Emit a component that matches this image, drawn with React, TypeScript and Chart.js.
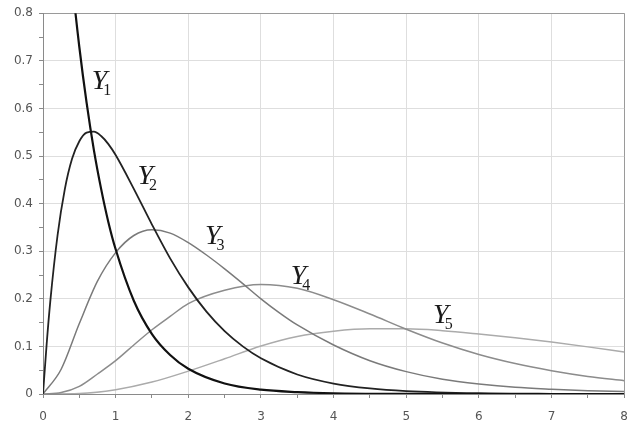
import React, { useEffect, useRef } from "react";
import { Chart, registerables } from "chart.js";

Chart.register(...registerables);

// Series values (x, y pairs per curve)
const y1X = [0.2, 0.3, 0.4, 0.5, 0.6, 0.7, 0.8, 0.9, 1.0, 1.25, 1.5, 1.75, 2.0, 2.5, 3.0, 3.5, 4.0, 5.0, 6.0, 8.0];
const y1Y = [1.235, 1.035, 0.869, 0.729, 0.612, 0.513, 0.431, 0.361, 0.304, 0.196, 0.126, 0.082, 0.053, 0.022, 0.009, 0.004, 0.0016, 0.0003, 0, 0];

const y2X = [0, 0.05, 0.1, 0.2, 0.3, 0.4, 0.5, 0.6, 0.7, 0.8, 0.9, 1.0, 1.25, 1.5, 1.75, 2.0, 2.25, 2.5, 2.75, 3.0, 3.5, 4.0, 4.5, 5.0, 6.0, 7.0, 8.0];
const y2Y = [0, 0.104, 0.194, 0.333, 0.43, 0.494, 0.531, 0.549, 0.551, 0.542, 0.525, 0.502, 0.431, 0.356, 0.285, 0.224, 0.173, 0.132, 0.1, 0.075, 0.041, 0.022, 0.0117, 0.0062, 0.0017, 0.0004, 0.0001];

const y3X = [0, 0.25, 0.5, 0.75, 1.0, 1.25, 1.5, 1.75, 2.0, 2.25, 2.5, 2.75, 3.0, 3.25, 3.5, 4.0, 4.5, 5.0, 5.5, 6.0, 6.5, 7.0, 7.5, 8.0];
const y3Y = [0, 0.052, 0.148, 0.237, 0.297, 0.333, 0.345, 0.338, 0.318, 0.292, 0.263, 0.232, 0.2, 0.171, 0.145, 0.103, 0.07, 0.047, 0.031, 0.021, 0.014, 0.01, 0.007, 0.005];

const y4X = [0, 0.25, 0.5, 0.75, 1.0, 1.25, 1.5, 1.75, 2.0, 2.5, 3.0, 3.5, 4.0, 4.5, 5.0, 5.5, 6.0, 6.5, 7.0, 7.5, 8.0];
const y4Y = [0, 0.003, 0.016, 0.042, 0.07, 0.103, 0.135, 0.163, 0.19, 0.218, 0.23, 0.222, 0.198, 0.168, 0.136, 0.107, 0.083, 0.064, 0.049, 0.037, 0.028];

const y5X = [0, 0.5, 1.0, 1.5, 2.0, 2.5, 3.0, 3.5, 4.0, 4.5, 5.0, 5.5, 6.0, 6.5, 7.0, 7.5, 8.0];
const y5Y = [0, 0.001, 0.009, 0.025, 0.048, 0.074, 0.101, 0.121, 0.132, 0.137, 0.137, 0.133, 0.126, 0.118, 0.109, 0.099, 0.088];

// Curve labels (Y with subscript) and their anchor positions in data units
const labelSubs = ["1", "2", "3", "4", "5"];
const labelX = [0.67, 1.3, 2.23, 3.41, 5.37];
const labelY = [0.64, 0.442, 0.315, 0.231, 0.15];

// Axis ranges
const xMin = 0, xMax = 8, xStep = 0.5;
const yMin = 0, yMax = 0.8, yStep = 0.05;

const pts = (xs: number[], ys: number[]) => xs.map((x, i) => ({ x, y: ys[i] }));
const isMult = (v: number, m: number) => Math.abs(v / m - Math.round(v / m)) < 1e-6;

const curveLabels = {
  id: "curveLabels",
  afterDatasetsDraw(chart: any) {
    const { ctx, scales } = chart;
    ctx.save();
    ctx.fillStyle = "#1a1a1a";
    ctx.textBaseline = "alphabetic";
    ctx.textAlign = "left";
    labelSubs.forEach((s, i) => {
      const px = scales.x.getPixelForValue(labelX[i]);
      const py = scales.y.getPixelForValue(labelY[i]);
      ctx.font = 'italic 28px "Liberation Serif"';
      ctx.fillText("Y", px, py);
      const w = ctx.measureText("Y").width;
      ctx.font = '16px "Liberation Serif"';
      ctx.fillText(s, px + w - 4, py + 6);
    });
    ctx.restore();
  },
};

export default function App() {
  const ref = useRef<HTMLCanvasElement | null>(null);
  useEffect(() => {
    if (!ref.current) return;
    const tickFont = { family: "DejaVu Sans", size: 12 };
    const chart = new Chart(ref.current, {
      type: "line",
      data: {
        datasets: [
          { label: "Y1", data: pts(y1X, y1Y), borderColor: "#111", borderWidth: 2.2 },
          { label: "Y2", data: pts(y2X, y2Y), borderColor: "#222", borderWidth: 1.8 },
          { label: "Y3", data: pts(y3X, y3Y), borderColor: "#7a7a7a", borderWidth: 1.5 },
          { label: "Y4", data: pts(y4X, y4Y), borderColor: "#8c8c8c", borderWidth: 1.5 },
          { label: "Y5", data: pts(y5X, y5Y), borderColor: "#ababab", borderWidth: 1.5 },
        ].map((d) => ({
          ...d,
          pointRadius: 0,
          fill: false,
          cubicInterpolationMode: "monotone" as const,
          clip: 0,
        })),
      },
      options: {
        animation: false,
        responsive: false,
        layout: { padding: { top: 10, right: 13, left: 0, bottom: 0 } },
        plugins: { legend: { display: false }, tooltip: { enabled: false } },
        scales: {
          x: {
            type: "linear",
            min: xMin,
            max: xMax,
            afterFit: (s: any) => { s.height = 32; },
            ticks: {
              stepSize: xStep,
              autoSkip: false,
              maxRotation: 0,
              padding: 12,
              color: "#555",
              font: tickFont,
              callback: (v: any) => (isMult(Number(v), 1) ? String(Math.round(Number(v))) : ""),
            },
            grid: {
              color: (c: any) => {
                const v = c.tick ? c.tick.value : 0;
                if (!isMult(v, 1)) return "rgba(0,0,0,0)";
                return v === xMax ? "#9a9a9a" : "#dedede";
              },
              tickColor: "#8a8a8a",
              tickLength: 4,
            },
            border: { color: "#8a8a8a", width: 1 },
          },
          y: {
            type: "linear",
            min: yMin,
            max: yMax,
            afterFit: (s: any) => { s.width = 43; },
            ticks: {
              stepSize: yStep,
              autoSkip: false,
              padding: 6,
              color: "#555",
              font: tickFont,
              callback: (v: any) => {
                const n = Number(v);
                if (!isMult(n, 0.1)) return "";
                return n === 0 ? "0" : n.toFixed(1);
              },
            },
            grid: {
              color: (c: any) => {
                const v = c.tick ? c.tick.value : 0;
                if (!isMult(v, 0.1)) return "rgba(0,0,0,0)";
                return Math.abs(v - yMax) < 1e-6 ? "#9a9a9a" : "#dedede";
              },
              tickColor: "#8a8a8a",
              tickLength: 4,
            },
            border: { color: "#8a8a8a", width: 1 },
          },
        },
      },
      plugins: [curveLabels],
    });
    return () => chart.destroy();
  }, []);
  return (
    <div style={{ position: "absolute", left: 0, top: 0, width: 640, height: 426, background: "#fff" }}>
      <canvas ref={ref} width={640} height={426} />
    </div>
  );
}
